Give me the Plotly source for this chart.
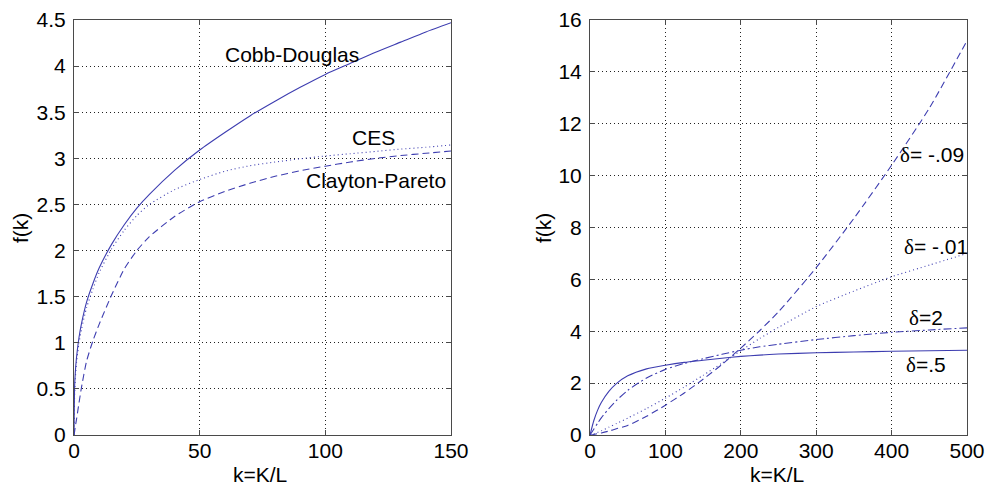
import plotly.graph_objects as go

# ---------------- data ----------------
k_left = [0, 0.25, 0.5, 1, 2, 3, 5, 7.5, 10, 15, 20, 25, 30, 40, 50, 60, 70, 80, 90, 100, 110, 120, 130, 140, 150]
cobb_douglas = [0, 0.53, 0.67, 0.84, 1.06, 1.21, 1.44, 1.64, 1.81, 2.07, 2.28, 2.46, 2.61, 2.87, 3.09, 3.28, 3.46,
                3.62, 3.77, 3.91, 4.03, 4.15, 4.26, 4.37, 4.47]
ces = [0, 0.45, 0.6, 0.78, 1.0, 1.15, 1.38, 1.58, 1.76, 2.02, 2.22, 2.38, 2.5, 2.66, 2.77, 2.86, 2.92,
       2.96, 2.995, 3.025, 3.05, 3.075, 3.10, 3.12, 3.145]
clayton_pareto = [0, 0.04, 0.09, 0.17, 0.35, 0.52, 0.8, 1.02, 1.2, 1.52, 1.8, 2.0, 2.15, 2.37, 2.53, 2.64, 2.73,
                  2.805, 2.865, 2.915, 2.96, 3.0, 3.03, 3.055, 3.08]

k_right = [0, 5, 10, 15, 25, 35, 50, 75, 100, 125, 150, 175, 200, 225, 250, 300, 350, 400, 450, 500]
delta_05 = [0, 0.55, 0.95, 1.25, 1.68, 1.98, 2.28, 2.55, 2.69, 2.8, 2.88, 2.96, 3.03, 3.08, 3.12, 3.17, 3.2, 3.23,
            3.25, 3.27]
delta_2 = [0, 0.22, 0.45, 0.66, 1.02, 1.33, 1.72, 2.2, 2.53, 2.76, 2.94, 3.11, 3.27, 3.4, 3.5, 3.68, 3.83, 3.96,
           4.05, 4.13]
delta_m01 = [0, 0.05, 0.1, 0.16, 0.3, 0.44, 0.65, 1.02, 1.42, 1.85, 2.3, 2.77, 3.25, 3.72, 4.15, 4.95, 5.55, 6.1,
             6.55, 7.0]
delta_m09 = [0, 0.02, 0.05, 0.08, 0.15, 0.24, 0.37, 0.72, 1.15, 1.62, 2.15, 2.72, 3.35, 4.02, 4.75, 6.45, 8.35,
             10.4, 12.6, 15.2]

left_yticks = [0, 0.5, 1, 1.5, 2, 2.5, 3, 3.5, 4, 4.5]
left_xticks = [0, 50, 100, 150]
right_yticks = [0, 2, 4, 6, 8, 10, 12, 14, 16]
right_xticks = [0, 100, 200, 300, 400, 500]

# ---------------- styling ----------------
W, H = 985, 487
LINE = "#3d3db0"
FONT = "Liberation Sans, Arial, sans-serif"
FS = 21

def fx(px):
    return px / W

def fy(py):
    return (H - py) / H

DASH = "7px,4px"
DOT = "1px,3px"
DASHDOT = "8px,3px,2px,3px"

fig = go.Figure()

def add(x, y, dash, xa, ya):
    fig.add_trace(go.Scatter(x=x, y=y, mode="lines", xaxis=xa, yaxis=ya,
                             line=dict(color=LINE, width=1.1, dash=dash, shape="spline", smoothing=0.6),
                             showlegend=False, hoverinfo="skip"))

add(k_left, cobb_douglas, "solid", "x", "y")
add(k_left, ces, DOT, "x", "y")
add(k_left, clayton_pareto, DASH, "x", "y")

add(k_right, delta_05, "solid", "x2", "y2")
add(k_right, delta_2, DASHDOT, "x2", "y2")
add(k_right, delta_m01, DOT, "x2", "y2")
add(k_right, delta_m09, DASH, "x2", "y2")

ax_common = dict(showline=True, mirror="ticks", linecolor="#4a4a4a", linewidth=1,
                 ticks="inside", ticklen=5, tickcolor="#4a4a4a",
                 showgrid=True, gridcolor="#222222", griddash=DOT, gridwidth=1,
                 zeroline=False, tickfont=dict(family=FONT, size=FS, color="black"),
                 fixedrange=True, automargin=False)

y_dom = [fy(435), fy(20)]
fig.update_layout(
    width=W, height=H,
    margin=dict(l=0, r=0, t=0, b=0, autoexpand=False),
    paper_bgcolor="white", plot_bgcolor="white",
    showlegend=False,
    xaxis=dict(domain=[fx(74), fx(451)], range=[0, 150], tickvals=left_xticks,
               anchor="y", ticklabelstandoff=-3, **ax_common),
    yaxis=dict(domain=y_dom, range=[0, 4.5], tickvals=left_yticks,
               anchor="x", ticklabelstandoff=3, **ax_common),
    xaxis2=dict(domain=[fx(590), fx(967)], range=[0, 500], tickvals=right_xticks,
                anchor="y2", ticklabelstandoff=-3, **ax_common),
    yaxis2=dict(domain=y_dom, range=[0, 16], tickvals=right_yticks,
                anchor="x2", ticklabelstandoff=3, **ax_common),
)

def note(text, x, y, xref, yref, **kw):
    fig.add_annotation(text=text, x=x, y=y, xref=xref, yref=yref, showarrow=False,
                       xanchor="center", yanchor="middle",
                       font=dict(family=FONT, size=FS, color="black"), **kw)

# axis titles
note("k=K/L", fx(260), fy(474), "paper", "paper")
note("k=K/L", fx(777), fy(474), "paper", "paper")
note("f(k)", fx(21), fy(228), "paper", "paper", textangle=-90)
note("f(k)", fx(544), fy(228), "paper", "paper", textangle=-90)

# curve labels, left
note("Cobb-Douglas", 86.7, 4.13, "x", "y")
note("CES", 119, 3.23, "x", "y")
note("Clayton-Pareto", 120, 2.755, "x", "y")

# curve labels, right
D = '<span style="font-family:Liberation Serif, serif">δ</span>'
note(D + "= -.09", 453, 10.8, "x2", "y2")
note(D + "= -.01", 459, 7.25, "x2", "y2")
note(D + "=2", 445, 4.51, "x2", "y2")
note(D + "=.5", 445, 2.70, "x2", "y2")

fig.write_html("out.html", config={"displayModeBar": False},
               post_script="document.body.style.margin='0';document.body.style.overflow='hidden';")
